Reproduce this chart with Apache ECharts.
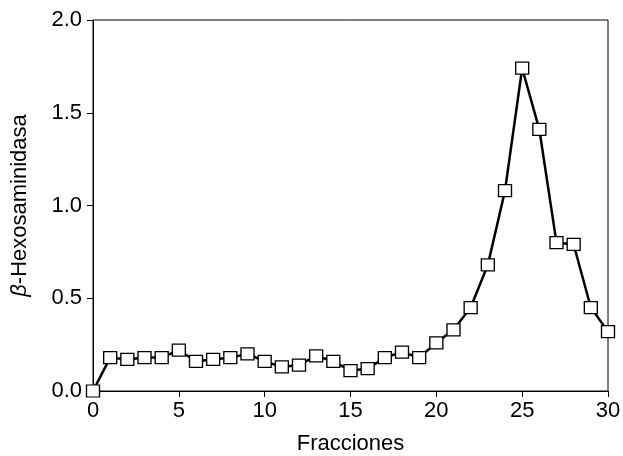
<!DOCTYPE html>
<html>
<head>
<meta charset="utf-8">
<script src="https://cdn.jsdelivr.net/npm/echarts@6/dist/echarts.min.js"></script>
<style>
html,body{margin:0;padding:0;background:#fff;}
#chart{width:623px;height:456px;}
</style>
</head>
<body>
<div id="chart"></div>
<script>
var fractions = [0,1,2,3,4,5,6,7,8,9,10,11,12,13,14,15,16,17,18,19,20,21,22,23,24,25,26,27,28,29,30];
var hexValues = [0.00,0.18,0.17,0.18,0.18,0.22,0.16,0.17,0.18,0.20,0.16,0.13,0.14,0.19,0.16,0.11,0.12,0.18,0.21,0.18,0.26,0.33,0.45,0.68,1.08,1.74,1.41,0.80,0.79,0.45,0.32];
var xTitle = 'Fracciones';
var yTitleGreek = 'β';
var yTitleRest = '-Hexosaminidasa';

var points = fractions.map(function(f, i){ return [f, hexValues[i]]; });
var font = '"Liberation Sans", Arial, sans-serif';

var chart = echarts.init(document.getElementById('chart'), null, {renderer:'canvas'});
chart.setOption({
  animation: false,
  backgroundColor: '#fff',
  grid: {left: 93, right: 15, top: 20, bottom: 65, containLabel: false, outerBoundsMode: 'none',
    show: true, borderColor: '#000', borderWidth: 1, backgroundColor: 'transparent'},
  xAxis: {
    type: 'value', min: 0, max: 30, interval: 5,
    name: xTitle, nameLocation: 'middle', nameGap: 42,
    nameTextStyle: {fontFamily: font, fontSize: 22, color: '#000'},
    axisLine: {show: true, onZero: false, lineStyle: {color: '#000', width: 1}},
    axisTick: {show: true, inside: false, length: 6, lineStyle: {color: '#000', width: 1}},
    axisLabel: {fontFamily: font, fontSize: 22, color: '#000', margin: 9},
    splitLine: {show: false}
  },
  yAxis: {
    type: 'value', min: 0, max: 2, interval: 0.5,
    name: '{g|' + yTitleGreek + '}' + yTitleRest, nameLocation: 'middle', nameGap: 62,
    nameRotate: 90,
    nameTextStyle: {fontFamily: font, fontSize: 22, color: '#000',
      rich: {g: {fontFamily: font, fontSize: 22, fontStyle: 'italic', color: '#000'}}},
    axisLine: {show: true, lineStyle: {color: '#000', width: 1}},
    axisTick: {show: true, inside: false, length: 6, lineStyle: {color: '#000', width: 1}},
    axisLabel: {fontFamily: font, fontSize: 22, color: '#000', margin: 11,
      formatter: function(v){ return v.toFixed(1); }},
    splitLine: {show: false}
  },
  series: [{
    type: 'line',
    data: points,
    clip: false,
    symbol: 'rect',
    symbolSize: [13, 12],
    showAllSymbol: true,
    lineStyle: {color: '#000', width: 2.5},
    itemStyle: {color: '#fff', borderColor: '#000', borderWidth: 1.3},
    z: 3
  }]
});
</script>
</body>
</html>
